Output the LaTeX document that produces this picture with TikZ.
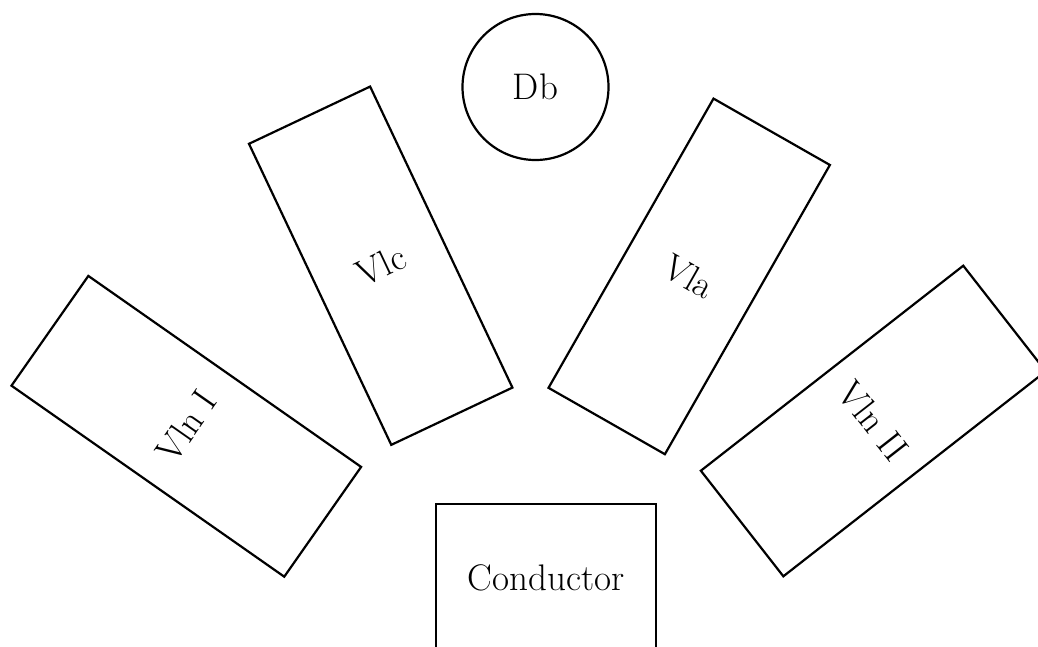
\documentclass[tikz,border=0pt]{standalone}
\usepackage{fontspec}
\begin{document}
\begin{tikzpicture}[x=1pt,y=-1pt,
  every node/.style={font=\fontsize{37}{41}\selectfont},
  sectionbox/.style={draw, line width=2.2pt, minimum width=134pt, minimum height=333pt, inner sep=0pt},
  ]
\clip (0,0) rectangle (1038,646);
\useasboundingbox (0,0) rectangle (1038,646);
\node[sectionbox, rotate=55] (vlnI) at (186.3,426.3) {Vln I};
\node[sectionbox, rotate=25.3] (vlc) at (380.7,265.7) {Vlc};
\node[sectionbox, rotate=-29.7] (vla) at (689.2,276.4) {Vla};
\node[sectionbox, rotate=-52] (vlnII) at (873.3,421) {Vln II};
\node[draw, circle, line width=2.2pt, minimum size=146pt, inner sep=0pt] (db) at (535.5,87) {Db};
\node[draw, line width=2.2pt, anchor=north, minimum width=220pt, text height=26pt, text depth=120pt, inner ysep=61pt] (cond) at (546,502.7) {Conductor};
\end{tikzpicture}
\end{document}
